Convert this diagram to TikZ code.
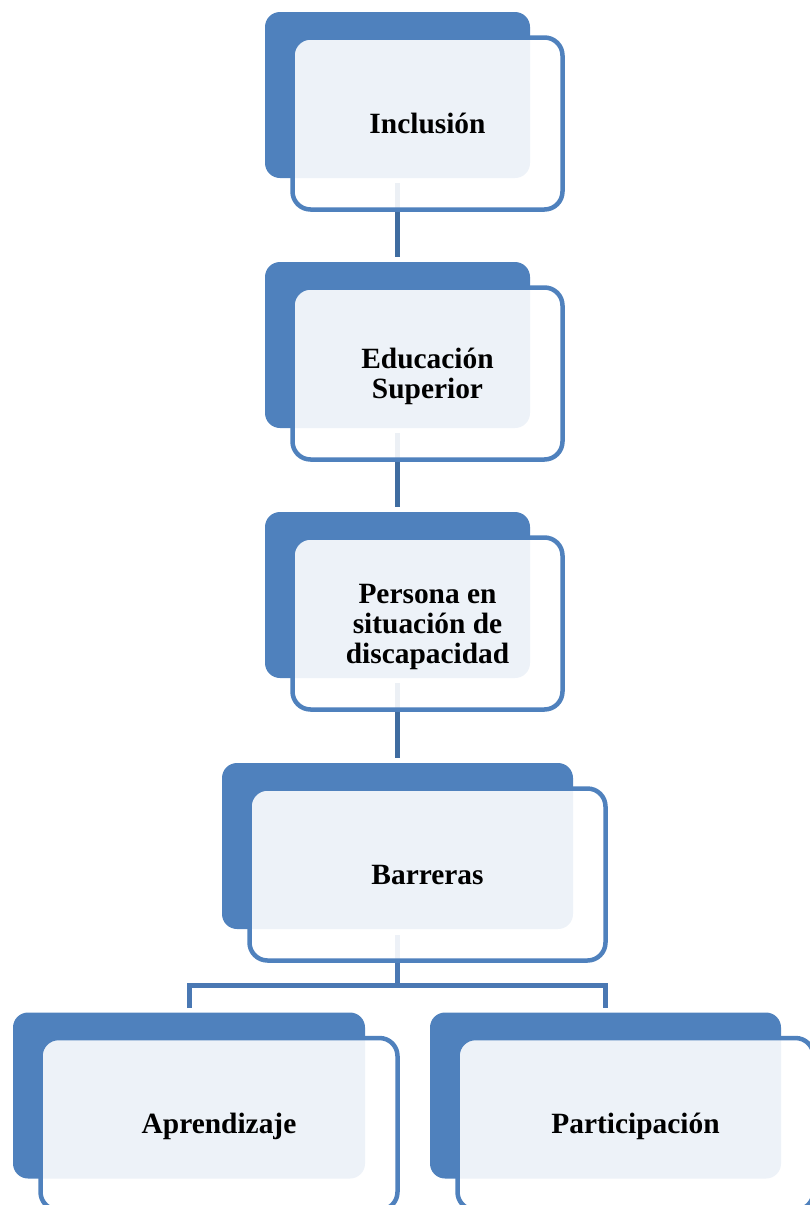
\documentclass[tikz,border=0pt]{standalone}
\usepackage{fontspec}
\setmainfont{Liberation Serif}
\definecolor{accent}{HTML}{4F81BD}
\definecolor{chain}{HTML}{3F6CA0}
\definecolor{branch}{HTML}{4A78B3}
\newcommand{\topstrut}{\rule{0pt}{26.5pt}}
\newcommand{\botstrut}{\rule[-7.5pt]{0pt}{7.5pt}}
\tikzset{
 backbox/.style={fill=accent, rounded corners=15pt, inner sep=0pt, outer sep=0pt, minimum height=166pt, anchor=north west},
 frontbox/.style={draw=accent, line width=4.5pt, fill=white, fill opacity=0.9, text opacity=1, rounded corners=18pt, inner sep=0pt, outer sep=0pt, minimum height=172pt, anchor=north west, align=center, font=\bfseries\fontsize{29.4}{30}\selectfont},
 link/.style={draw=chain, line width=5pt},
 branchlink/.style={draw=branch, line width=5pt},
}
\begin{document}
\begin{tikzpicture}[x=1pt,y=-1pt]
\useasboundingbox (0,0) rectangle (810,1205);
\clip (0,0) rectangle (810,1205);
% back boxes
\node[backbox, minimum width=265pt] (b1) at (265,12) {};
\node[backbox, minimum width=265pt] (b2) at (265,262) {};
\node[backbox, minimum width=265pt] (b3) at (265,512) {};
\node[backbox, minimum width=351pt] (b4) at (222,763) {};
\node[backbox, minimum width=352pt] (b5) at (13,1012.5) {};
\node[backbox, minimum width=351pt] (b6) at (430,1012.5) {};
% connectors
\draw[link, shorten <=5pt, shorten >=5pt] (b1.south) -- (b2.north);
\draw[link, shorten <=5pt, shorten >=5pt] (b2.south) -- (b3.north);
\draw[link, shorten <=5pt, shorten >=5pt] (b3.south) -- (b4.north);
\coordinate (j) at (397.5,985);
\draw[branchlink, shorten <=6pt] (b4.south) -- (j);
\draw[branchlink, shorten <=4.5pt, shorten >=4.5pt] (b5.north) |- (j) -| (b6.north);
% front boxes
\node[frontbox, minimum width=270pt] (f1) at (292.5,37.5) {\topstrut\botstrut Inclusión};
\node[frontbox, minimum width=270pt] (f2) at (292.5,287.5) {\topstrut Educación\\\botstrut Superior};
\node[frontbox, minimum width=270pt] (f3) at (292.5,537.5) {\topstrut Persona en\\situación de\\\botstrut discapacidad};
\node[frontbox, minimum width=356pt] (f4) at (249.5,788.5) {\topstrut\botstrut Barreras};
\node[frontbox, minimum width=357pt] (f5) at (40.5,1038) {\topstrut\botstrut Aprendizaje};
\node[frontbox, minimum width=356pt] (f6) at (457.5,1038) {\topstrut\botstrut Participación};
\end{tikzpicture}
\end{document}
